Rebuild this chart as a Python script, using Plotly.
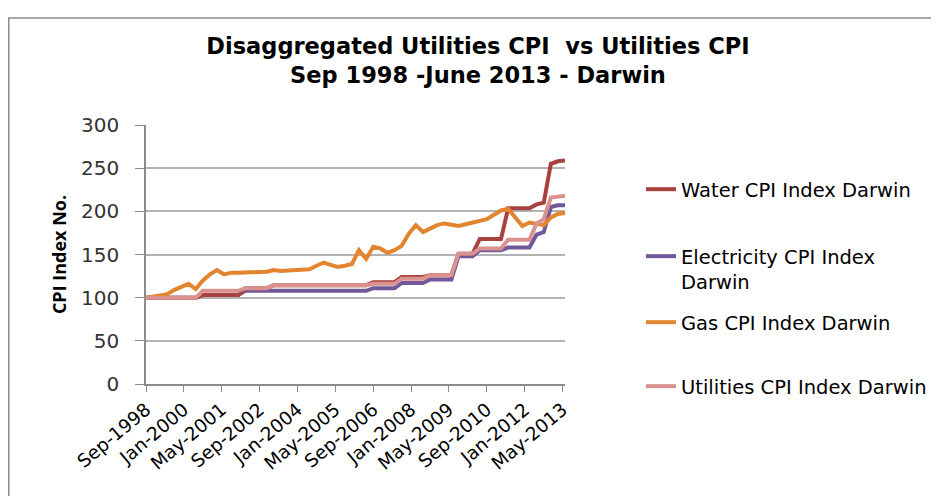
import pandas as pd
import plotly.graph_objects as go

# ---------------- data (quarterly, Sep-1998 .. Jun-2013) ----------------
start_date = "1998-09-01"
n_quarters = 60

water = [100, 100, 100, 100, 100, 100, 100, 100,
         103, 103, 103, 103, 103, 103,
         111, 111, 111, 111,
         114.5, 114.5, 114.5, 114.5, 114.5, 114.5, 114.5, 114.5, 114.5, 114.5, 114.5, 114.5, 114.5, 114.5,
         118, 118, 118, 118,
         124, 124, 124, 124,
         126, 126, 126, 126,
         151, 151, 151,
         168, 168, 168, 168,
         203.5, 203.5, 203.5, 203.5,
         208, 210, 255, 258, 259]

electricity = [100, 100, 100, 100, 100, 100, 100, 100,
               103, 103, 103, 103, 103, 103,
               108, 108, 108, 108, 108, 108, 108, 108, 108, 108, 108, 108, 108, 108, 108, 108, 108, 108,
               111, 111, 111, 111,
               117, 117, 117, 117,
               121, 121, 121, 121,
               148, 148, 148,
               155, 155, 155, 155,
               158, 158, 158, 158,
               173, 176, 205, 207, 207]

gas = [100, 101, 103, 104, 109, 113, 116, 110,
       120, 127, 132, 127, 129, 129, 129, 130,
       130, 130, 132, 131, 131.5, 132, 132, 133,
       137, 140.5, 138, 135.5, 137, 139, 155, 145,
       159, 157, 152, 155, 160, 174, 184, 176,
       180, 184, 186, 184, 183, 185, 187, 188,
       191, 196, 201, 203, 193, 183, 187, 186,
       184, 193, 197, 198]

utilities = [100, 100, 100, 100, 100, 100, 100, 100,
             108, 108, 108, 108, 108, 108,
             111, 111, 111, 111,
             114.5, 114.5, 114.5, 114.5, 114.5, 114.5, 114.5, 114.5, 114.5, 114.5, 114.5, 114.5, 114.5, 114.5,
             116, 116, 116, 116,
             122, 122, 122, 122,
             126, 126, 126, 126,
             151, 151, 151,
             157, 157, 157, 157,
             167, 167, 167, 167,
             186, 191, 216, 217, 218]

tick_labels = ["Sep-1998", "Jan-2000", "May-2001", "Sep-2002", "Jan-2004", "May-2005",
               "Sep-2006", "Jan-2008", "May-2009", "Sep-2010", "Jan-2012", "May-2013"]

series_names = ["Water CPI Index Darwin",
                "Electricity CPI Index<br>Darwin",
                "Gas CPI Index Darwin",
                "Utilities CPI Index Darwin"]

# ---------------- build ----------------
dates = pd.date_range(start=start_date, periods=n_quarters, freq="3MS")
tick_vals = [pd.to_datetime(t, format="%b-%Y") for t in tick_labels]

colors = {"water": "#A8423F", "elec": "#71589A", "gas": "#E3842F", "util": "#D99290"}

FONT = "DejaVu Sans"

fig = go.Figure()

# draw order: electricity, water, gas, utilities (utilities on top)
fig.add_trace(go.Scatter(x=dates, y=electricity, mode="lines", name=series_names[1],
                         line=dict(color=colors["elec"], width=4), legend="legend2"))
fig.add_trace(go.Scatter(x=dates, y=water, mode="lines", name=series_names[0],
                         line=dict(color=colors["water"], width=4), legend="legend"))
fig.add_trace(go.Scatter(x=dates, y=gas, mode="lines", name=series_names[2],
                         line=dict(color=colors["gas"], width=4), legend="legend3"))
fig.add_trace(go.Scatter(x=dates, y=utilities, mode="lines", name=series_names[3],
                         line=dict(color=colors["util"], width=4), legend="legend4"))

W, H = 939, 496
OFF = 8  # page body margin
# plot area in figure coordinates
L, R, T, B = 146 - OFF, 565 - OFF, 125 - OFF, 384 - OFF
pw, ph = R - L, B - T


def px_x(x):
    return (x - L) / pw


def px_y(y):
    return (B - y) / ph


legend_font = dict(family=FONT, size=19.5, color="#000000")


def leg(ytop):
    return dict(x=px_x(633), y=px_y(ytop), xanchor="left", yanchor="top",
                font=legend_font, bgcolor="rgba(0,0,0,0)", valign="top",
                itemclick=False, itemdoubleclick=False)


fig.update_layout(
    width=W, height=H, autosize=False,
    showlegend=True,
    margin=dict(l=L, r=W - R, t=T, b=H - B, pad=0),
    paper_bgcolor="white", plot_bgcolor="white",
    title=dict(text="Disaggregated Utilities CPI\u00a0\u00a0vs Utilities CPI<br>Sep 1998 -June 2013 - Darwin",
               x=470 / W, xanchor="center", xref="container",
               y=1 - 46 / H, yanchor="top", yref="container",
               font=dict(family=FONT, size=22.5, color="#000000", weight="bold")),
    legend=leg(162),
    legend2=leg(229),
    legend3=leg(295),
    legend4=leg(359),
    xaxis=dict(
        type="date",
        range=[dates[0], dates[-1]],
        tickvals=tick_vals, ticktext=tick_labels,
        tickangle=-40,
        tickfont=dict(family=FONT, size=18.5, color="#000000"),
        ticks="outside", ticklen=6, tickcolor="#8c8c8c", tickwidth=1,
        showline=True, linecolor="#8c8c8c", linewidth=1.5,
        showgrid=False, zeroline=False,
    ),
    yaxis=dict(
        range=[0, 300], tickvals=[0, 50, 100, 150, 200, 250, 300],
        tickfont=dict(family=FONT, size=20, color="#333333"),
        ticks="outside", ticklen=9, tickcolor="#8c8c8c", tickwidth=1,
        ticklabelstandoff=12,
        showline=True, linecolor="#8c8c8c", linewidth=1.5,
        showgrid=True, gridcolor="#b3b3b3", gridwidth=1.5,
        zeroline=False,
        title=dict(text="CPI Index No.", standoff=10,
                   font=dict(family="Open Sans", size=18, color="#000000", weight="bold")),
    ),
    shapes=[
        dict(type="line", xref="paper", yref="paper",
             x0=px_x(0), x1=px_x(W + 5), y0=px_y(10), y1=px_y(10),
             line=dict(color="#8c8c8c", width=1.5)),
        dict(type="line", xref="paper", yref="paper",
             x0=px_x(0.75), x1=px_x(0.75), y0=px_y(10), y1=px_y(H + 5),
             line=dict(color="#8c8c8c", width=1.5)),
    ],
)

fig.write_html("out.html")
